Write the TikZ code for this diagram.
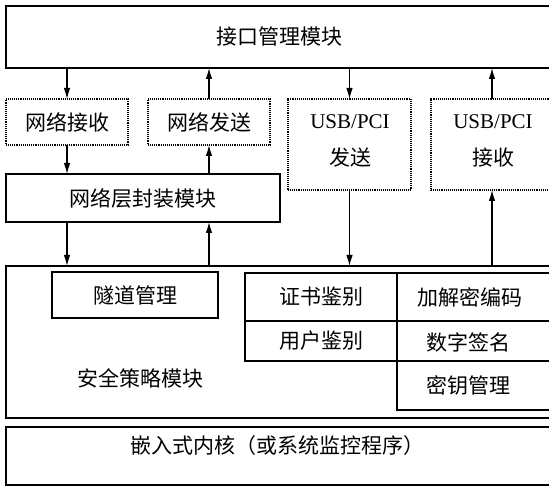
\documentclass[tikz,border=0pt]{standalone}
\usepackage{fontspec}
\setmainfont{Liberation Serif}
\newfontfamily\cjk{Noto Sans CJK SC}
\usetikzlibrary{arrows.meta}
\begin{document}
\begin{tikzpicture}[x=1pt,y=-1pt,
  every node/.style={inner sep=0pt,outer sep=0pt,font=\fontsize{21}{24}\selectfont\cjk},
  solidbox/.style={draw,line width=1.8pt},
  cellbox/.style={draw,line width=1.6pt},
  dotbox/.style={draw,line width=1.8pt,dash pattern=on 1pt off 0.9pt},
  arr/.style={line width=1.1pt,-{Latex[length=11pt,width=6.5pt]}},
  txt/.style={font=\fontsize{21}{24}\selectfont\cjk},
  lat/.style={font=\fontsize{21}{24}\selectfont}]
\useasboundingbox (0,0) rectangle (549,489);
% boxes
\node[solidbox,minimum width=547pt,minimum height=62pt] (top) at (279.5,37) {接口管理模块};
\node[dotbox,minimum width=122pt,minimum height=46pt] (rec) at (67,122) {网络接收};
\node[dotbox,minimum width=122pt,minimum height=46pt] (snd) at (209,122) {网络发送};
\node[dotbox,minimum width=123pt,minimum height=91pt] (usbs) at (349.5,144.5) {};
\node[dotbox,minimum width=122pt,minimum height=91pt] (usbr) at (492,144.5) {};
\node[lat] (usbst) at (350,122) {USB/PCI};
\node[txt] (usbsb) at (350,158) {发送};
\node[lat] (usbrt) at (493,122) {USB/PCI};
\node[txt] (usbrb) at (493,158) {接收};
\node[solidbox,minimum width=274pt,minimum height=48pt] (layer) at (143,198) {网络层封装模块};
\node[solidbox,minimum width=547pt,minimum height=152pt] (sec) at (279.5,342) {};
\node[txt] (sect) at (140,378) {安全策略模块};
\node[cellbox,minimum width=166pt,minimum height=46pt] (tun) at (135,295) {隧道管理};
\node[cellbox,minimum width=152pt,minimum height=48pt] (cert) at (321,297) {证书鉴别};
\node[cellbox,minimum width=152pt,minimum height=40pt] (user) at (321,341) {用户鉴别};
\node[cellbox,minimum width=156pt,minimum height=48pt] (enc) at (475,297) {};
\node[cellbox,minimum width=156pt,minimum height=40pt] (sig) at (475,341) {};
\node[cellbox,minimum width=156pt,minimum height=49pt] (key) at (475,385.5) {};
\node[txt] (enct) at (470,297) {加解密编码};
\node[txt] (sigt) at (468,342) {数字签名};
\node[txt] (keyt) at (468,385) {密钥管理};
\node[solidbox,minimum width=547pt,minimum height=58pt] (ker) at (279.5,456) {};
\node[txt] (kert) at (277,446) {嵌入式内核（或系统监控程序）};
% connectors
\draw[arr] (top.south -| rec.north) -- (rec.north);
\draw[arr] (snd.north) -- (top.south -| snd.north);
\draw[arr] (top.south -| usbs.north) -- (usbs.north);
\draw[arr] (usbr.north) -- (top.south -| usbr.north);
\draw[arr] (rec.south) -- (layer.north -| rec.south);
\draw[arr] (layer.north -| snd.south) -- (snd.south);
\draw[arr] (layer.south -| rec.south) -- (sec.north -| rec.south);
\draw[arr] (sec.north -| snd.south) -- (layer.south -| snd.south);
\draw[arr] (usbs.south) -- (sec.north -| usbs.south);
\draw[arr] (sec.north -| usbr.south) -- (usbr.south);
\end{tikzpicture}
\end{document}
